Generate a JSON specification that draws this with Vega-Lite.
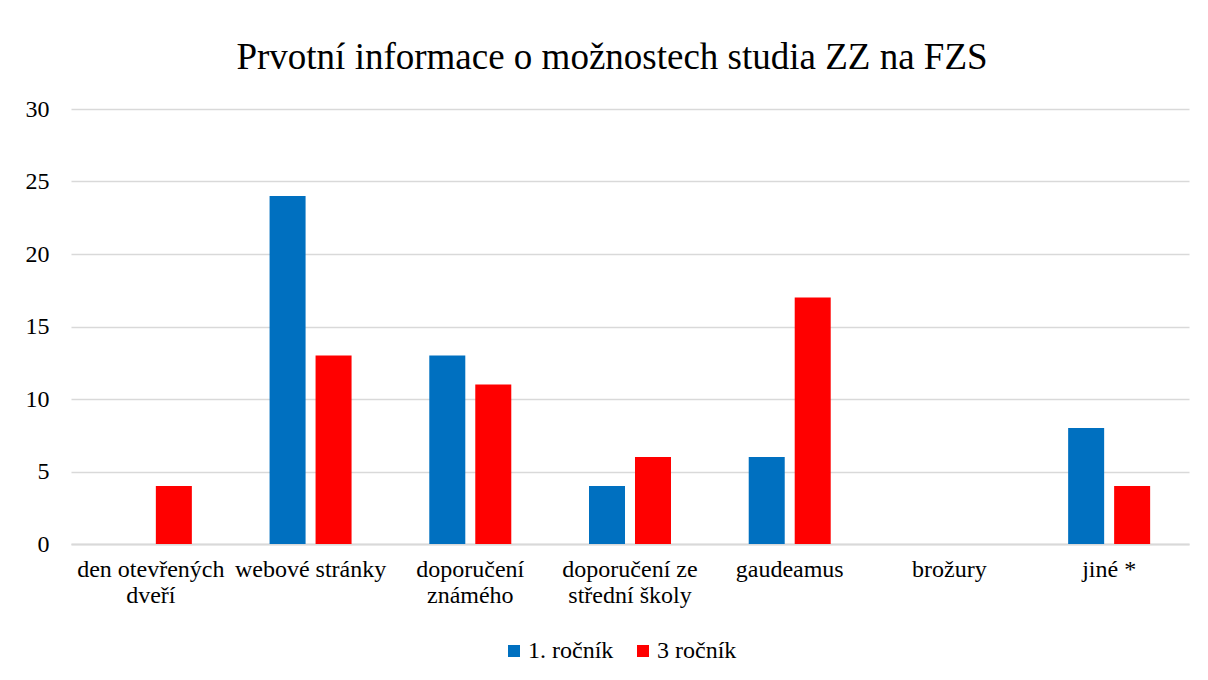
{
  "$schema": "https://vega.github.io/schema/vega-lite/v6.json",
  "width": 1118,
  "height": 435,
  "autosize": "none",
  "padding": {"left": 71, "top": 109, "right": 19, "bottom": 136},
  "background": "white",
  "title": {
    "text": "Prvotní informace o možnostech studia ZZ na FZS",
    "font": "Liberation Serif",
    "fontSize": 37,
    "fontWeight": "normal",
    "color": "#000000",
    "anchor": "middle",
    "offset": 28,
    "dy": 8,
    "dx": -18
  },
  "data": {
    "values": [
      {"kategorie": "den otevřených|dveří", "rocnik": "1. ročník", "pocet": 0},
      {"kategorie": "den otevřených|dveří", "rocnik": "3 ročník", "pocet": 4},
      {"kategorie": "webové stránky", "rocnik": "1. ročník", "pocet": 24},
      {"kategorie": "webové stránky", "rocnik": "3 ročník", "pocet": 13},
      {"kategorie": "doporučení|známého", "rocnik": "1. ročník", "pocet": 13},
      {"kategorie": "doporučení|známého", "rocnik": "3 ročník", "pocet": 11},
      {"kategorie": "doporučení ze|střední školy", "rocnik": "1. ročník", "pocet": 4},
      {"kategorie": "doporučení ze|střední školy", "rocnik": "3 ročník", "pocet": 6},
      {"kategorie": "gaudeamus", "rocnik": "1. ročník", "pocet": 6},
      {"kategorie": "gaudeamus", "rocnik": "3 ročník", "pocet": 17},
      {"kategorie": "brožury", "rocnik": "1. ročník", "pocet": 0},
      {"kategorie": "brožury", "rocnik": "3 ročník", "pocet": 0},
      {"kategorie": "jiné *", "rocnik": "1. ročník", "pocet": 8},
      {"kategorie": "jiné *", "rocnik": "3 ročník", "pocet": 4}
    ]
  },
  "mark": {"type": "bar"},
  "encoding": {
    "x": {
      "field": "kategorie",
      "type": "nominal",
      "sort": null,
      "scale": {"paddingInner": 0, "paddingOuter": 0},
      "axis": {
        "title": null,
        "labelAngle": 0,
        "labelExpr": "split(datum.label, '|')",
        "labelFont": "Liberation Serif",
        "labelFontSize": 24,
        "labelColor": "#000000",
        "labelPadding": 13,
        "labelLineHeight": 26,
        "ticks": false,
        "domain": true,
        "domainColor": "#d9d9d9",
        "domainWidth": 2,
        "grid": false
      }
    },
    "xOffset": {
      "field": "rocnik",
      "type": "nominal",
      "scale": {"paddingInner": 0.217, "paddingOuter": 0.845}
    },
    "y": {
      "field": "pocet",
      "type": "quantitative",
      "scale": {"domain": [0, 30]},
      "axis": {
        "title": null,
        "values": [0, 5, 10, 15, 20, 25, 30],
        "labelFont": "Liberation Serif",
        "labelFontSize": 24,
        "labelColor": "#000000",
        "labelPadding": 22,
        "ticks": false,
        "domain": false,
        "grid": true,
        "gridColor": "#d9d9d9",
        "gridWidth": 1.5
      }
    },
    "color": {
      "field": "rocnik",
      "type": "nominal",
      "scale": {"domain": ["1. ročník", "3 ročník"], "range": ["#0070C0", "#FF0000"]},
      "legend": {
        "title": null,
        "orient": "none",
        "direction": "horizontal",
        "legendX": 431,
        "legendY": 530,
        "symbolType": "square",
        "symbolSize": 144,
        "symbolStrokeWidth": 0,
        "labelFont": "Liberation Serif",
        "labelFontSize": 24,
        "labelColor": "#000000",
        "labelOffset": 2,
        "columnPadding": 17
      }
    }
  },
  "config": {"view": {"stroke": null}}
}
